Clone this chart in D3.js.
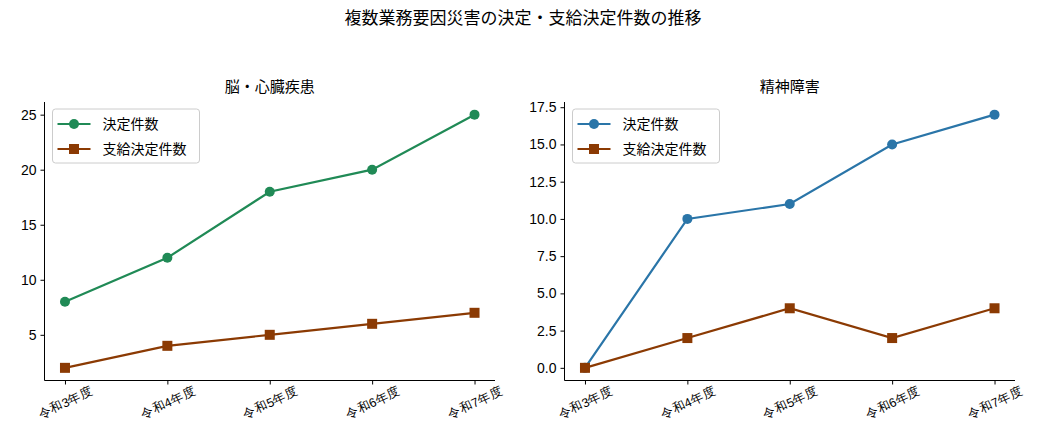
<!DOCTYPE html>
<html lang="ja">
  <head>
    <meta charset="utf-8">
    <title>複数業務要因災害の決定・支給決定件数の推移</title>
    <script type="text/javascript" src="https://d3js.org/d3.v7.min.js"></script>
    <style>
      body {
        margin: 0;
        background: #ffffff;
        font-family: 'Noto Sans CJK JP', 'Noto Sans', sans-serif;
      }
      .axis path,
      .axis line {
        stroke: #000000;
        stroke-width: 1;
      }
      .axis text {
        fill: #000000;
      }
      .legend-box {
        fill: #ffffff;
        fill-opacity: 0.8;
        stroke: #cccccc;
        stroke-width: 1;
      }
    </style>
  </head>
  <body>
    <div id="chart"></div>
    <script type="text/javascript">

      // data
      var years = ['令和3年度', '令和4年度', '令和5年度', '令和6年度', '令和7年度'];
      var seriesNames = ['決定件数', '支給決定件数'];
      var brainDecided = [8, 12, 18, 20, 25];
      var brainPaid = [2, 4, 5, 6, 7];
      var mentalDecided = [0, 10, 11, 15, 17];
      var mentalPaid = [0, 2, 4, 2, 4];
      var brainTicks = [5, 10, 15, 20, 25];
      var mentalTicks = [0, 2.5, 5, 7.5, 10, 12.5, 15, 17.5];

      var w = 1046;
      var h = 440;

      var svg = d3.select('#chart')
        .append('svg')
          .attr('width', w)
          .attr('height', h);

      // figure title
      svg.append('text')
        .attr('x', 523)
        .attr('y', 24)
        .attr('text-anchor', 'middle')
        .style('font-size', '17px')
        .text('複数業務要因災害の決定・支給決定件数の推移');

      var panels = [
        { title: '脳・心臓疾患', left: 44.5, right: 495, decided: brainDecided, paid: brainPaid,
          ticks: brainTicks, fmt: d3.format('d'), color: '#208a56' },
        { title: '精神障害', left: 564.5, right: 1015, decided: mentalDecided, paid: mentalPaid,
          ticks: mentalTicks, fmt: d3.format('.1f'), color: '#2a75a8' }
      ];
      var paidColor = '#8b3a03';
      var plotTop = 102;
      var plotBottom = 380.5;

      panels.forEach(function(p) {
        var g = svg.append('g');

        // scales with 5% padding like matplotlib
        var x = d3.scaleLinear()
          .domain([-0.2, years.length - 1 + 0.2])
          .range([p.left, p.right]);

        var all = p.decided.concat(p.paid);
        var lo = d3.min(all), hi = d3.max(all);
        var pad = (hi - lo) * 0.05;
        var y = d3.scaleLinear()
          .domain([lo - pad, hi + pad])
          .range([plotBottom, plotTop]);

        // x axis
        var xAxis = g.append('g')
          .attr('class', 'axis')
          .attr('transform', 'translate(0,' + plotBottom + ')')
          .call(d3.axisBottom(x)
            .tickValues(d3.range(years.length))
            .tickFormat(function(i) { return years[i]; })
            .tickSize(4)
            .tickSizeOuter(0));
        xAxis.selectAll('text')
          .style('font-size', '12.5px')
          .attr('text-anchor', 'middle')
          .attr('y', 0)
          .attr('dy', '0.35em')
          .attr('transform', 'translate(0,22) rotate(-25)');
        xAxis.select('.domain').attr('d', 'M' + p.left + ',0H' + p.right);

        // y axis
        var yAxis = g.append('g')
          .attr('class', 'axis')
          .attr('transform', 'translate(' + p.left + ',0)')
          .call(d3.axisLeft(y)
            .tickValues(p.ticks)
            .tickFormat(p.fmt)
            .tickSize(4)
            .tickPadding(4)
            .tickSizeOuter(0));
        yAxis.selectAll('text').style('font-size', '14px');
        yAxis.select('.domain').attr('d', 'M0,' + plotTop + 'V' + plotBottom);

        // subplot title
        g.append('text')
          .attr('x', (p.left + p.right) / 2)
          .attr('y', 92)
          .attr('text-anchor', 'middle')
          .style('font-size', '15px')
          .text(p.title);

        var line = d3.line()
          .x(function(d, i) { return x(i); })
          .y(function(d) { return y(d); });

        // decided series
        g.append('path')
          .datum(p.decided)
          .attr('d', line)
          .attr('fill', 'none')
          .attr('stroke', p.color)
          .attr('stroke-width', 2.2);
        g.selectAll('.pt-decided')
          .data(p.decided)
          .enter()
          .append('circle')
            .attr('class', 'pt-decided')
            .attr('cx', function(d, i) { return x(i); })
            .attr('cy', function(d) { return y(d); })
            .attr('r', 5)
            .attr('fill', p.color);

        // paid series
        g.append('path')
          .datum(p.paid)
          .attr('d', line)
          .attr('fill', 'none')
          .attr('stroke', paidColor)
          .attr('stroke-width', 2.2);
        g.selectAll('.pt-paid')
          .data(p.paid)
          .enter()
          .append('rect')
            .attr('class', 'pt-paid')
            .attr('x', function(d, i) { return x(i) - 5; })
            .attr('y', function(d) { return y(d) - 5; })
            .attr('width', 10)
            .attr('height', 10)
            .attr('fill', paidColor);

        // legend
        var lg = g.append('g')
          .attr('transform', 'translate(' + (p.left + 8) + ',' + (plotTop + 7) + ')');
        lg.append('rect')
          .attr('class', 'legend-box')
          .attr('width', 147)
          .attr('height', 54)
          .attr('rx', 3);
        var colors = [p.color, paidColor];
        seriesNames.forEach(function(name, i) {
          var ly = 15 + i * 25;
          lg.append('line')
            .attr('x1', 5).attr('x2', 38)
            .attr('y1', ly).attr('y2', ly)
            .attr('stroke', colors[i])
            .attr('stroke-width', 2.2);
          if (i === 0) {
            lg.append('circle')
              .attr('cx', 21.5).attr('cy', ly).attr('r', 5)
              .attr('fill', colors[i]);
          } else {
            lg.append('rect')
              .attr('x', 16.5).attr('y', ly - 5)
              .attr('width', 10).attr('height', 10)
              .attr('fill', colors[i]);
          }
          lg.append('text')
            .attr('x', 50)
            .attr('y', ly + 5)
            .style('font-size', '14px')
            .text(name);
        });
      });

    </script>
  </body>
</html>
